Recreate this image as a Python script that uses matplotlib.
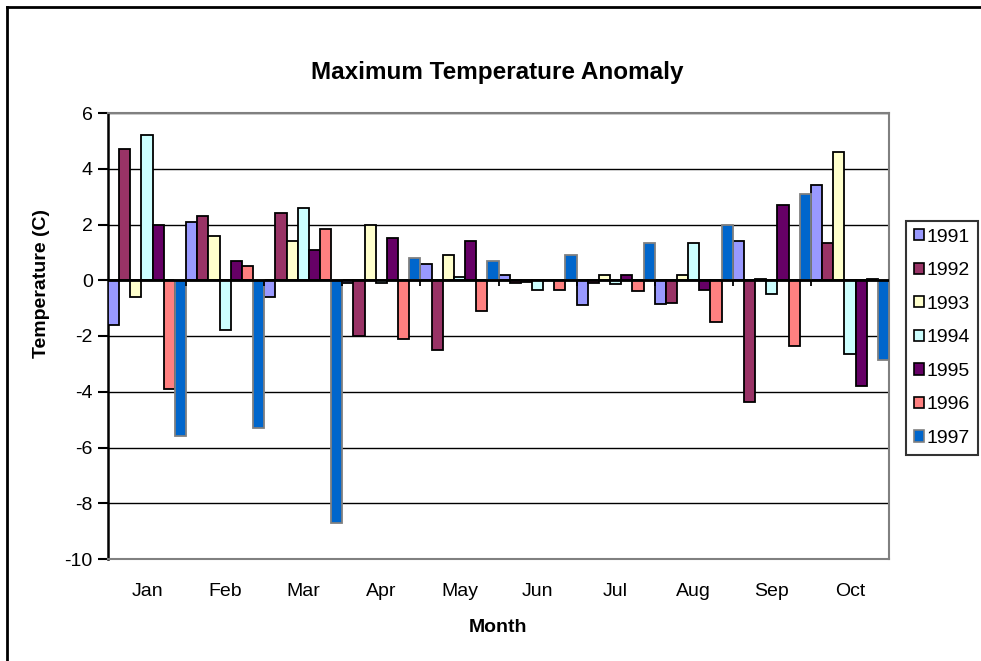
import matplotlib
matplotlib.use("Agg")
import matplotlib.pyplot as plt
from matplotlib.patches import Patch
from matplotlib.lines import Line2D
import numpy as np

plt.rcParams['font.family'] = ['Liberation Sans', 'DejaVu Sans']

months = ["Jan", "Feb", "Mar", "Apr", "May", "Jun", "Jul", "Aug", "Sep", "Oct"]
years = ["1991", "1992", "1993", "1994", "1995", "1996", "1997"]

v1991 = [-1.6, 2.1, -0.6, -0.1, 0.6, 0.2, -0.9, -0.85, 1.4, 3.4]
v1992 = [4.7, 2.3, 2.4, -2.0, -2.5, -0.1, -0.1, -0.8, -4.35, 1.35]
v1993 = [-0.6, 1.6, 1.4, 2.0, 0.9, -0.05, 0.2, 0.2, 0.05, 4.6]
v1994 = [5.2, -1.8, 2.6, -0.1, 0.1, -0.35, -0.15, 1.35, -0.5, -2.65]
v1995 = [2.0, 0.7, 1.1, 1.5, 1.4, 0.0, 0.2, -0.35, 2.7, -3.8]
v1996 = [-3.9, 0.5, 1.85, -2.1, -1.1, -0.35, -0.4, -1.5, -2.35, 0.05]
v1997 = [-5.6, -5.3, -8.7, 0.8, 0.7, 0.9, 1.35, 2.0, 3.1, -2.85]

series = [v1991, v1992, v1993, v1994, v1995, v1996, v1997]
colors = ["#9999FF", "#993366", "#FFFFCC", "#CCFFFF", "#660066", "#FF8080", "#0066CC"]
edges = ["black"] * 6 + ["#808080"]

yticks = [-10, -8, -6, -4, -2, 0, 2, 4, 6]

W, H = 981, 661
fig = plt.figure(figsize=(W / 100, H / 100), dpi=100)
ax = fig.add_axes([108 / W, 1 - 559 / H, (889 - 108) / W, (559 - 113) / H])

n = len(series)
bw = 1.0 / n
x = np.arange(len(months))
for i, (vals, c, e) in enumerate(zip(series, colors, edges)):
    ax.bar(x + i * bw, vals, width=bw, align='edge', color=c, edgecolor=e,
           linewidth=1.3, zorder=3, label=years[i])

ax.set_xlim(0, len(months))
ax.set_ylim(-10, 6)
ax.set_yticks(yticks)
ax.set_yticklabels([str(t) for t in yticks], fontsize=14)
ax.yaxis.grid(True, color='black', linewidth=1.0, zorder=0)
ax.set_axisbelow(True)

ax.set_xticks(x + 0.5)
ax.set_xticklabels(months, fontsize=14)
ax.tick_params(axis='x', length=0, pad=17)
ax.tick_params(axis='y', direction='out', length=7, width=1.5, pad=4)

# category axis crossing at zero
ax.axhline(0, color='black', linewidth=2, zorder=4)
ax.vlines(np.arange(1, len(months)), -0.2, 0, color='black', linewidth=1.3, zorder=4)

for s in ['top', 'right', 'bottom']:
    ax.spines[s].set_color('#808080')
    ax.spines[s].set_linewidth(1.5)
ax.spines['left'].set_color('black')
ax.spines['left'].set_linewidth(1.8)

fig.text(497 / W, 1 - 73 / H, "Maximum Temperature Anomaly", ha='center', va='center',
         fontsize=17.5, fontweight='bold')
fig.text(498 / W, 1 - 627 / H, "Month", ha='center', va='center',
         fontsize=14, fontweight='bold')
fig.text(42 / W, 1 - 283 / H, "Temperature (C)", ha='center', va='center',
         rotation=90, fontsize=14, fontweight='bold')

# outer chart border (top and left visible)
fig.add_artist(Line2D([7 / W, 7 / W], [0, 1 - 7 / H], transform=fig.transFigure,
                      color='black', linewidth=2))
fig.add_artist(Line2D([7 / W, 1], [1 - 7 / H, 1 - 7 / H], transform=fig.transFigure,
                      color='black', linewidth=2))

handles = [Patch(facecolor=c, edgecolor=e, linewidth=1.2) for c, e in zip(colors, edges)]
leg = fig.legend(handles, years, loc='upper left',
                 bbox_to_anchor=(906 / W, 1 - 221 / H), bbox_transform=fig.transFigure,
                 fontsize=14, frameon=True, fancybox=False, borderaxespad=0,
                 handlelength=0.5, handleheight=0.5, handletextpad=0.15,
                 labelspacing=0.85, borderpad=0.4)
leg.get_frame().set_edgecolor('black')
leg.get_frame().set_linewidth(1.5)

fig.savefig("out.png", dpi=100)
